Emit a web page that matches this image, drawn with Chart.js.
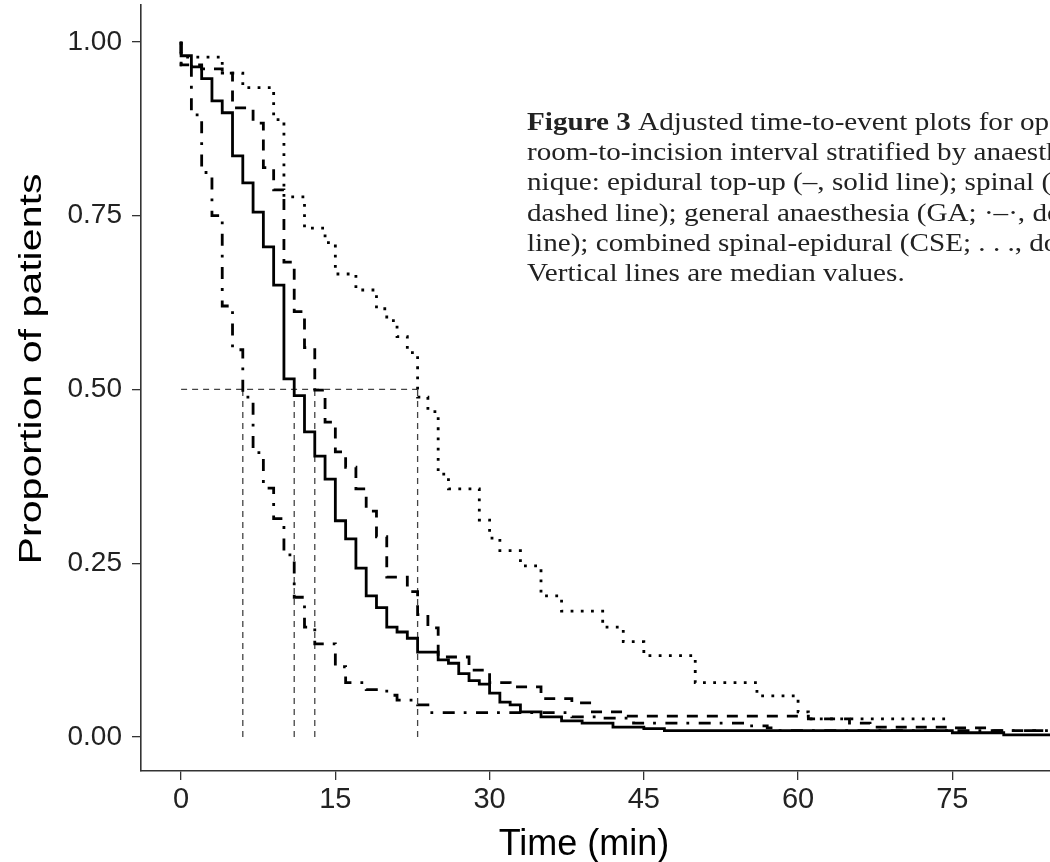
<!DOCTYPE html>
<html>
<head>
<meta charset="utf-8">
<script src="https://cdn.jsdelivr.net/npm/chart.js@4.4.1/dist/chart.umd.min.js"></script>
<style>
  html, body { margin: 0; padding: 0; background: #fff; }
  canvas { display: block; }
</style>
</head>
<body>
<canvas id="kmChart" width="1050" height="862"></canvas>
<script>
const xTicks = [0, 15, 30, 45, 60, 75];
const yTicks = [0, 0.25, 0.5, 0.75, 1];

// epidural top-up (solid)
const epiTimes = [0, 0, 1, 2, 3, 4, 5, 6, 7, 8, 9, 10, 11, 12, 13, 14, 15, 16, 17, 18, 19, 20, 21, 22, 23, 25, 26, 27, 28, 29, 30, 31, 32, 33, 35, 37, 39, 42, 45, 47, 75, 80, 86];
const epiSurv = [1.00, 0.980, 0.964, 0.947, 0.915, 0.898, 0.836, 0.797, 0.755, 0.705, 0.650, 0.515, 0.491, 0.439, 0.404, 0.371, 0.311, 0.285, 0.243, 0.203, 0.186, 0.158, 0.151, 0.142, 0.122, 0.111, 0.106, 0.091, 0.081, 0.076, 0.063, 0.050, 0.046, 0.036, 0.029, 0.023, 0.020, 0.014, 0.012, 0.009, 0.006, 0.003, 0.003];

// spinal (dashed)
const spinalTimes = [0, 0, 2, 4, 5, 7, 8, 9, 10, 11, 12, 13, 14, 15, 16, 17, 18, 19, 20, 22, 23, 24, 25, 28, 30, 32, 35, 38, 40, 43, 61, 65, 67, 75, 79, 86];
const spinalSurv = [1.00, 0.967, 0.961, 0.955, 0.905, 0.883, 0.819, 0.787, 0.683, 0.612, 0.560, 0.499, 0.453, 0.410, 0.388, 0.357, 0.325, 0.288, 0.230, 0.209, 0.176, 0.157, 0.115, 0.096, 0.078, 0.072, 0.055, 0.049, 0.036, 0.030, 0.026, 0.020, 0.014, 0.013, 0.009, 0.009];

// general anaesthesia (dot-dash)
const gaTimes = [0, 0, 1, 2, 3, 4, 5, 6, 7, 8, 9, 10, 11, 12, 13, 15, 16, 18, 20, 21, 23, 24, 38, 41, 44, 55, 57, 58, 86];
const gaSurv = [1.00, 0.967, 0.895, 0.812, 0.750, 0.620, 0.557, 0.489, 0.409, 0.358, 0.314, 0.262, 0.201, 0.158, 0.134, 0.101, 0.078, 0.068, 0.060, 0.053, 0.046, 0.035, 0.029, 0.027, 0.020, 0.016, 0.013, 0.009, 0.009];

// combined spinal-epidural (dotted)
const cseTimes = [0, 0, 4, 6, 9, 10, 12, 14, 15, 17, 19, 20, 21, 22, 23, 24, 25, 26, 29, 30, 31, 33, 35, 37, 41, 43, 45, 50, 56, 60, 61, 75];
const cseSurv = [1.00, 0.978, 0.955, 0.934, 0.888, 0.777, 0.732, 0.711, 0.666, 0.643, 0.616, 0.599, 0.576, 0.553, 0.489, 0.468, 0.378, 0.357, 0.312, 0.286, 0.268, 0.246, 0.203, 0.181, 0.158, 0.137, 0.117, 0.078, 0.059, 0.036, 0.026, 0.026];

const medianTimes = [6, 11, 13, 23];
const medianLevel = 0.5;

const yTitle = "Proportion of patients";
const xTitle = "Time (min)";
const captionLines = [
    ["Figure 3", " Adjusted time-to-event plots for operating"],
    ["", "room-to-incision interval stratified by anaesthetic tech-"],
    ["", "nique: epidural top-up (–, solid line); spinal (- -,"],
    ["", "dashed line); general anaesthesia (GA; ·–·, dot-dashed"],
    ["", "line); combined spinal-epidural (CSE; . . ., dotted line)."],
    ["", "Vertical lines are median values."]
];

function toPoints(times, surv) {
    return times.map((t, i) => ({ x: t, y: surv[i] }));
}

function kmLine(label, times, surv, dash) {
    return {
        label: label,
        data: toPoints(times, surv),
        stepped: true,
        borderColor: "#000",
        borderWidth: 2.8,
        borderDash: dash,
        borderCapStyle: "butt",
        pointRadius: 0,
        fill: false
    };
}

function medianLine(points) {
    return {
        label: "median",
        data: points,
        borderColor: "#444",
        borderWidth: 1.3,
        borderDash: [6, 5],
        pointRadius: 0,
        fill: false
    };
}

const datasets = [
    kmLine("Epidural top-up", epiTimes, epiSurv, []),
    kmLine("Spinal", spinalTimes, spinalSurv, [11, 9]),
    kmLine("GA", gaTimes, gaSurv, [12, 9, 2.8, 9.5]),
    kmLine("CSE", cseTimes, cseSurv, [2.8, 7.4]),
    medianLine([{ x: 0, y: medianLevel }, { x: Math.max(...medianTimes), y: medianLevel }])
];
medianTimes.forEach(t => datasets.push(medianLine([{ x: t, y: 0 }, { x: t, y: medianLevel }])));

const textPlugin = {
    id: "texts",
    afterDraw(chart) {
        const ctx = chart.ctx;
        ctx.save();
        ctx.fillStyle = "#000";
        // axis titles
        ctx.font = "36px 'Liberation Sans', Arial, sans-serif";
        ctx.textAlign = "center";
        ctx.textBaseline = "alphabetic";
        ctx.fillText(xTitle, 584, 855);
        ctx.save();
        ctx.translate(41, 369);
        ctx.rotate(-Math.PI / 2);
        ctx.font = "31px 'Liberation Sans', Arial, sans-serif";
        const w = ctx.measureText(yTitle).width;
        ctx.scale(391 / w, 1);
        ctx.fillText(yTitle, 0, 0);
        ctx.restore();
        // caption
        ctx.fillStyle = "#222";
        ctx.textAlign = "left";
        captionLines.forEach((line, i) => {
            ctx.save();
            ctx.translate(527, 130 + i * 30.2);
            ctx.scale(1.165, 1);
            ctx.font = "bold 25px 'Liberation Serif', 'Times New Roman', serif";
            ctx.fillText(line[0], 0, 0);
            const bw = ctx.measureText(line[0]).width;
            ctx.font = "25px 'Liberation Serif', 'Times New Roman', serif";
            ctx.fillText(line[1], bw, 0);
            ctx.restore();
        });
        ctx.restore();
    }
};

const axisColor = "#333";
new Chart(document.getElementById("kmChart"), {
    type: "line",
    data: { datasets: datasets },
    options: {
        responsive: false,
        animation: false,
        layout: { padding: { left: 0, right: 0, top: 5, bottom: 0 } },
        plugins: { legend: { display: false }, tooltip: { enabled: false } },
        scales: {
            x: {
                type: "linear",
                min: -3.9,
                max: 84.5,
                afterBuildTicks: s => { s.ticks = xTicks.map(v => ({ value: v })); },
                afterFit: s => { s.height = 91; s.paddingLeft = 0; s.paddingRight = 0; },
                grid: { drawOnChartArea: false, tickLength: 9, color: axisColor, lineWidth: 1.3 },
                border: { display: true, color: axisColor, width: 1.6 },
                ticks: { padding: 3, color: "#222", font: { family: "'Liberation Sans', Arial, sans-serif", size: 29 }, maxRotation: 0 }
            },
            y: {
                min: -0.049,
                max: 1.053,
                afterBuildTicks: s => { s.ticks = yTicks.map(v => ({ value: v })); },
                afterFit: s => { s.width = 141; s.paddingTop = 0; s.paddingBottom = 0; },
                grid: { drawOnChartArea: false, tickLength: 9, color: axisColor, lineWidth: 1.3 },
                border: { display: true, color: axisColor, width: 1.6 },
                ticks: { padding: 10, color: "#222", font: { family: "'Liberation Sans', Arial, sans-serif", size: 28 }, callback: v => v.toFixed(2) }
            }
        }
    },
    plugins: [textPlugin]
});
</script>
</body>
</html>
